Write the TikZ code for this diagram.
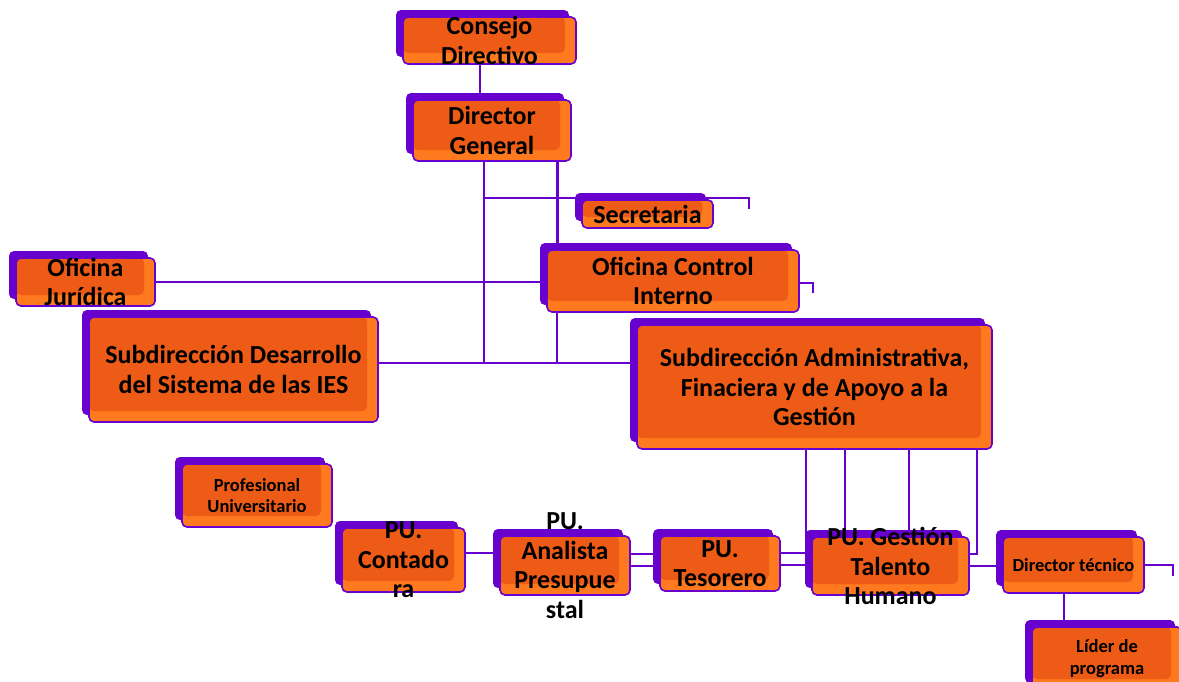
\documentclass[tikz,border=0pt]{standalone}
\usepackage{fontspec}
\setmainfont{Carlito}
\usetikzlibrary{shadows, backgrounds}
\definecolor{orgpurple}{RGB}{104,0,206}
\definecolor{orglight}{RGB}{255,121,30}
\definecolor{orgdark}{RGB}{237,91,22}
\tikzset{
    unit/.style={draw=orgpurple, line width=1.6pt, fill=orglight, rounded corners=5pt, inner sep=0pt,
        general shadow={fill=orgpurple, shadow xshift=-7pt, shadow yshift=7pt}, % purple block behind each box
        path picture={\fill[orgdark, rounded corners=5pt] (path picture bounding box.north west)
            rectangle ([xshift=-11pt, yshift=11pt]path picture bounding box.south east);}},
    big/.style={font=\bfseries\fontsize{26}{29.5}\selectfont, align=center}, % text of the large boxes
    small/.style={font=\bfseries\fontsize{18.5}{21.5}\selectfont, align=center}, % text of the small boxes
    link/.style={draw=orgpurple, line width=2pt}, % connectors
}
\begin{document}
\begin{tikzpicture}[x=1pt, y=-1pt]
\useasboundingbox (0,0) rectangle (1179,681);
\node[unit, minimum width=173pt, minimum height=47pt, label={[big]center:{Consejo\\Directivo}}] (cd) at (489.5,40.5) {};
\node[unit, minimum width=158pt, minimum height=61pt, label={[big]center:{Director\\General}}] (dg) at (492,130.5) {};
\node[unit, minimum width=131pt, minimum height=28pt, label={[big]center:{Secretaria}}] (sec) at (647.5,214) {};
\node[unit, minimum width=252pt, minimum height=62pt, label={[big]center:{Oficina Control\\Interno}}] (oci) at (673,281) {};
\node[unit, minimum width=139pt, minimum height=48pt, label={[big]center:{Oficina\\Jurídica}}] (oj) at (85.5,282) {};
\node[unit, minimum width=289pt, minimum height=105pt, label={[big]center:{Subdirección Desarrollo\\del Sistema de las IES}}] (sdd) at (233.5,369.5) {};
\node[unit, minimum width=355pt, minimum height=124pt, label={[big]center:{Subdirección Administrativa,\\Finaciera y de Apoyo a la\\Gestión}}] (sda) at (814.5,387) {};
\node[unit, minimum width=150pt, minimum height=63pt, label={[small]center:{Profesional\\Universitario}}] (pu) at (257,495.5) {};
\node[unit, minimum width=123pt, minimum height=64pt, label={[big]center:{PU.\\Contado\\ra}}] (con) at (403.5,560) {};
\node[unit, minimum width=130pt, minimum height=59pt, label={[big]center:{PU.\\Analista\\Presupue\\stal}}] (ana) at (565,565.5) {};
\node[unit, minimum width=120pt, minimum height=55pt, label={[big]center:{PU.\\Tesorero}}] (tes) at (720,563.5) {};
\node[unit, minimum width=157pt, minimum height=58pt, label={[big]center:{PU. Gestión\\Talento\\Humano}}] (gth) at (890.5,566) {};
\node[unit, minimum width=141pt, minimum height=56pt, label={[small]center:{Director técnico}}] (dt) at (1073.5,565) {};
\node[unit, minimum width=150pt, minimum height=63pt, label={[small]center:{Líder de\\programa}}] (lp) at (1107,658.5) {};
\coordinate (hub) at (484,363);
\coordinate (hub2) at (557,363);
\begin{scope}[on background layer]
\draw[link] ([xshift=-9.5pt]cd.south) -- ([xshift=-9.5pt]cd.south |- dg.north);
\draw[link] (dg.south -| hub) -- (hub);
\draw[link, line width=3pt] (dg.south -| hub2) -- (oci.north -| hub2);
\draw[link] (oci.south -| hub2) -- (hub2);
\draw[link] (sdd.east |- hub) -- (sda.west |- hub);
\draw[link] ([yshift=1pt]sec.north -| hub) -- ([yshift=1pt]sec.north);
\draw[link] ([yshift=1pt]sec.north) -| ([xshift=35pt, yshift=5pt]sec.east);
\draw[link] (oj.east) -- (oj.east -| oci.west);
\draw[link] ([yshift=-2pt]oci.center) -| ([xshift=13pt, yshift=-12pt]oci.east);
\foreach \dx in {-8.5, 30.5, 94.5}
    \draw[link] ([xshift=\dx pt]sda.south) coordinate (drop) -- (gth.north -| drop);
\draw[link] ([xshift=162.5pt]sda.south) |- ([yshift=12pt]gth.east);
\draw[link] ([yshift=7pt]con.east) -- ([yshift=7pt]con.east -| ana.west);
\draw[link] ([yshift=12pt]ana.east) -- ([yshift=12pt]ana.east -| tes.west);
\draw[link] (ana.east) -- (ana.east -| tes.west);
\draw[link] ([yshift=10.5pt]tes.east) -- ([yshift=10.5pt]tes.east -| gth.west);
\draw[link] ([yshift=-1.5pt]tes.east) -- ([yshift=-1.5pt]tes.east -| gth.west);
\draw[link] (gth.east) -- (gth.east -| dt.west);
\draw[link] ([xshift=-9.5pt]dt.south) -- ([xshift=-9.5pt]dt.south |- lp.north);
\draw[link] (dt.center) -| ([xshift=28pt, yshift=-11pt]dt.east);
\end{scope}
\end{tikzpicture}
\end{document}
